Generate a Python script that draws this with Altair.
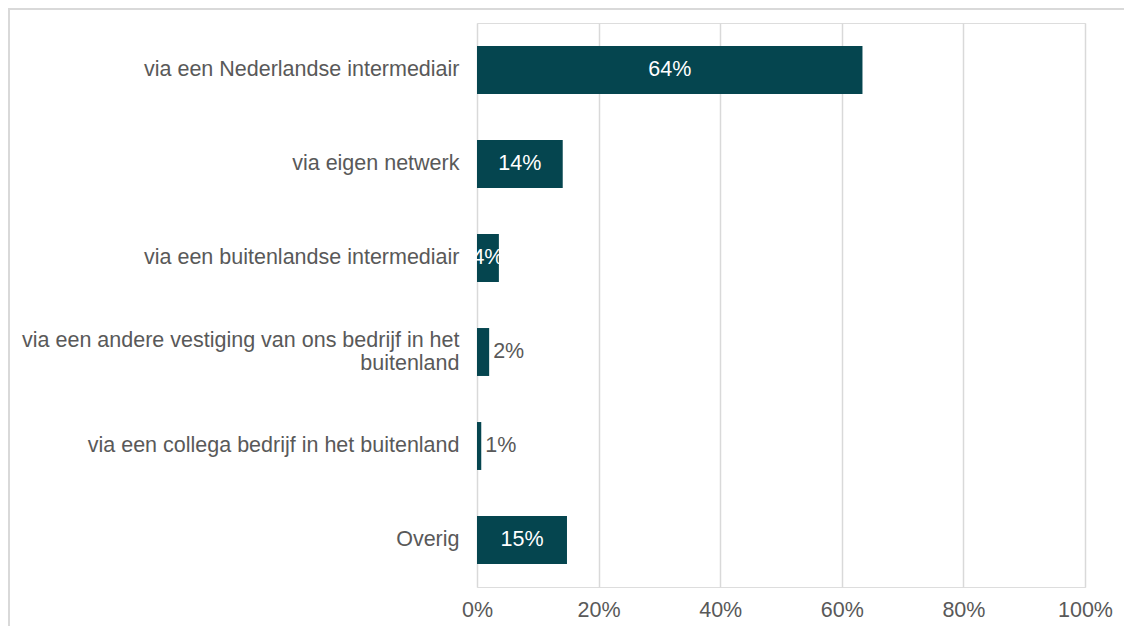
import altair as alt
import pandas as pd

categories = [
    "via een Nederlandse intermediair",
    "via eigen netwerk",
    "via een buitenlandse intermediair",
    "via een andere vestiging van ons bedrijf in het|buitenland",
    "via een collega bedrijf in het buitenland",
    "Overig",
]
values = [63.4, 14.1, 3.6, 2.0, 0.7, 14.8]
labels = ["64%", "14%", "4%", "2%", "1%", "15%"]
inside = [True, True, True, False, False, True]
x_ticks = [0, 20, 40, 60, 80, 100]

df = pd.DataFrame({"cat": categories, "value": values, "label": labels, "inside": inside})

W, H = 608, 564
PAD = {"left": 469, "top": 15, "right": 39, "bottom": 39}
FONT = "Liberation Sans"
FS = 21.5
GREY = "#595959"
BAR = "#05454F"

y_enc = alt.Y(
    "cat:N",
    sort=categories,
    scale=alt.Scale(paddingInner=0.49, paddingOuter=0.245),
    axis=alt.Axis(
        title=None, domain=False, ticks=False, labelPadding=18,
        labelFont=FONT, labelFontSize=FS, labelColor=GREY,
        labelLimit=0, labelLineHeight=23,
        labelExpr="split(datum.label, '|')",
        labelOffset={"condition": {"test": "indexof(datum.label, '|') >= 0", "value": -11.5}, "value": 0},
    ),
)
x_enc = alt.X(
    "value:Q",
    scale=alt.Scale(domain=[0, 100], nice=False),
    axis=alt.Axis(
        title=None, values=x_ticks, domain=False, ticks=False,
        labelExpr="datum.value + '%'", labelPadding=12, labelFlush=False,
        labelFont=FONT, labelFontSize=FS, labelColor=GREY,
        grid=True, gridColor="#d9d9d9", gridWidth=1.5,
    ),
)

bars = alt.Chart(df).mark_bar(color=BAR).encode(x=x_enc, y=y_enc)

text_in = alt.Chart(df).transform_filter("datum.inside").transform_calculate(
    mid="datum.value / 2"
).mark_text(font=FONT, fontSize=FS, color="white", align="center", baseline="middle").encode(
    x=alt.X("mid:Q"), y=alt.Y("cat:N", sort=categories), text="label:N"
)

text_out = alt.Chart(df).transform_filter("!datum.inside").mark_text(
    font=FONT, fontSize=FS, color=GREY, align="left", baseline="middle", dx=4
).encode(x=alt.X("value:Q"), y=alt.Y("cat:N", sort=categories), text="label:N")

border_top = alt.Chart(df).mark_rule(color="#d9d9d9", strokeWidth=2).encode(
    x=alt.value(-469), x2=alt.value(W + 39), y=alt.value(-14)
)
border_left = alt.Chart(df).mark_rule(color="#d9d9d9", strokeWidth=2).encode(
    x=alt.value(-468), y=alt.value(-15), y2=alt.value(H + 39)
)

chart = alt.layer(border_top, border_left, bars, text_in, text_out).properties(
    width=W, height=H,
    autosize=alt.AutoSizeParams(type="none"),
    padding=PAD,
).configure_view(stroke="transparent", strokeWidth=0).configure(background="white")

chart.save("out.html", embed_options={"renderer": "svg", "actions": False})
